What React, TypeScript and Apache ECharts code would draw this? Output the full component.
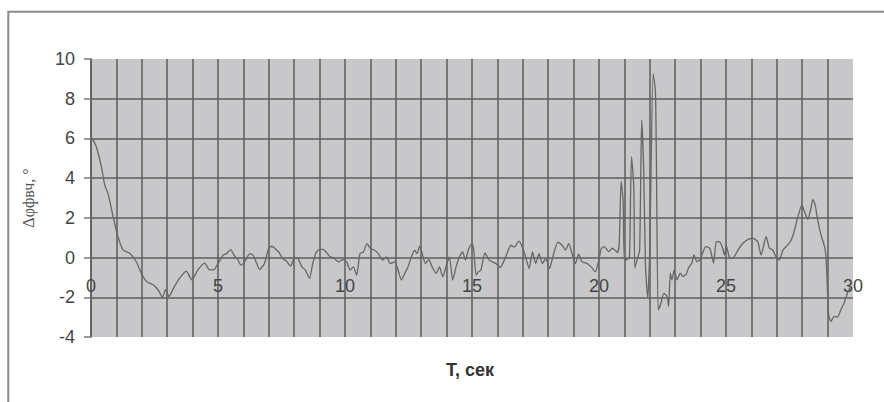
import React, { useEffect, useRef } from "react";
import * as echarts from "echarts";

const times: number[] = [
  0.05, 0.21, 0.41, 0.54, 0.67, 0.87, 1.06, 1.26, 1.52, 1.78, 1.98, 2.18, 2.44, 2.64, 2.81, 2.94, 3.07, 3.25, 3.49, 3.75,
  3.97, 4.21, 4.47, 4.67, 4.83, 5.0, 5.2, 5.33, 5.5, 5.63, 5.79, 5.9, 6.05, 6.25, 6.38, 6.5, 6.64, 6.83, 6.99, 7.12,
  7.25, 7.39, 7.55, 7.69, 7.86, 8.01, 8.15, 8.3, 8.43, 8.6, 8.73, 8.87, 9.04, 9.19, 9.39, 9.59, 9.74, 9.92, 10.07, 10.2,
  10.33, 10.46, 10.59, 10.72, 10.87, 11.0, 11.17, 11.31, 11.48, 11.63, 11.79, 11.96, 12.09, 12.22, 12.35, 12.48, 12.61, 12.74, 12.83, 12.94,
  13.04, 13.17, 13.3, 13.43, 13.59, 13.72, 13.85, 14.01, 14.11, 14.24, 14.37, 14.5, 14.63, 14.74, 14.87, 15.0, 15.07, 15.16, 15.25, 15.35,
  15.51, 15.68, 15.81, 15.94, 16.11, 16.27, 16.4, 16.53, 16.66, 16.85, 16.98, 17.11, 17.25, 17.38, 17.51, 17.64, 17.77, 17.9, 18.05, 18.2,
  18.38, 18.55, 18.68, 18.81, 18.94, 19.07, 19.2, 19.33, 19.53, 19.69, 19.86, 19.99, 20.09, 20.2, 20.39, 20.52, 20.65, 20.74, 20.8, 20.87,
  20.95, 21.0, 21.13, 21.2, 21.28, 21.37, 21.41, 21.5, 21.6, 21.68, 21.76, 21.83, 21.92, 22.0, 22.13, 22.22, 22.26, 22.33, 22.44, 22.55,
  22.68, 22.74, 22.81, 22.87, 22.96, 23.07, 23.2, 23.3, 23.43, 23.52, 23.65, 23.74, 23.85, 23.97, 24.1, 24.2, 24.36, 24.42, 24.51, 24.62,
  24.72, 24.85, 24.94, 25.01, 25.14, 25.27, 25.47, 25.67, 25.87, 26.05, 26.25, 26.38, 26.58, 26.71, 26.84, 26.97, 27.1, 27.24, 27.43, 27.57,
  27.7, 27.83, 27.99, 28.09, 28.22, 28.33, 28.42, 28.51, 28.61, 28.74, 28.88, 28.94, 29.0, 29.04, 29.13, 29.26, 29.39, 29.52, 29.65, 29.78,
  29.91,
];

const phaseDiff: number[] = [
  6.0, 5.58, 4.57, 3.65, 3.23, 2.06, 1.06, 0.39, 0.22, -0.2, -0.79, -1.2, -1.37, -1.62, -2.0, -1.62, -1.96, -1.54, -1.04, -0.68,
  -1.12, -0.62, -0.28, -0.62, -0.62, -0.3, 0.12, 0.2, 0.4, 0.12, -0.13, -0.38, -0.22, 0.2, 0.12, -0.22, -0.6, -0.3, 0.45, 0.57,
  0.45, 0.28, -0.05, -0.17, -0.43, 0.0, -0.05, -0.47, -0.6, -1.05, -0.3, 0.28, 0.43, 0.37, 0.07, -0.05, -0.22, -0.1, -0.22, -0.63,
  -0.47, -0.88, 0.2, 0.28, 0.7, 0.45, 0.37, 0.2, -0.13, 0.03, -0.3, -0.22, -0.63, -1.13, -0.8, -0.47, 0.03, 0.37, 0.2, 0.57,
  0.2, -0.3, -0.1, -0.47, -0.8, -0.47, -0.97, -0.3, 0.03, -1.13, -0.47, 0.03, 0.28, -0.13, 0.45, 0.7, 0.37, -0.88, -0.72, -0.63,
  0.23, -0.13, -0.22, -0.3, -0.5, -0.13, 0.28, 0.62, 0.53, 0.83, 0.53, 0.03, -0.55, 0.28, -0.3, 0.2, -0.3, -0.05, -0.55, 0.12,
  0.78, 0.62, 0.37, 0.7, 0.2, -0.3, 0.17, -0.22, -0.3, -0.47, -0.72, -0.13, 0.45, 0.55, 0.3, 0.47, 0.35, 0.25, 0.8, 3.82,
  2.9, -0.12, -0.08, 0.0, 5.08, 3.57, -0.54, -0.12, 0.38, 6.92, 4.4, -0.45, -2.04, 0.55, 9.26, 8.4, 4.9, -2.63, -2.3, -1.8,
  -1.96, -2.46, -0.79, -1.12, -0.62, -1.12, -0.79, -0.95, -0.85, -0.54, -0.28, 0.13, -0.2, -0.12, 0.3, 0.55, 0.47, 0.22, -0.28, 0.8,
  0.8, 0.55, 0.13, 0.6, 0.0, -0.03, 0.38, 0.72, 0.92, 0.97, 0.8, 0.13, 1.05, 0.47, 0.38, 0.05, -0.12, 0.38, 0.64, 0.89,
  1.39, 2.06, 2.65, 2.31, 1.93, 2.4, 2.93, 2.65, 1.89, 1.14, 0.55, -0.03, -1.79, -2.88, -3.22, -2.96, -3.0, -2.63, -2.29, -1.79,
  -1.46,
];

const xMin = 0;
const xMax = 30;
const yMin = -4;
const yMax = 10;
const yStep = 2;
const xLabelEvery = 5;
const yAxisTitle = "Δφфвч, °";
const xAxisTitle = "T, сек";

export default function App() {
  const ref = useRef<HTMLDivElement>(null);
  useEffect(() => {
    if (!ref.current) return;
    const chart = echarts.init(ref.current, null, { renderer: "svg" });
    const data = times.map((t, i) => [t, phaseDiff[i]]);
    const gridColor = "#5c5c5c";
    chart.setOption({
      animation: false,
      backgroundColor: "#ffffff",
      grid: {
        left: 91,
        top: 59,
        width: 762,
        height: 278,
        show: true,
        backgroundColor: "#c8c8ca",
        borderWidth: 0,
      },
      xAxis: {
        type: "value",
        min: xMin,
        max: xMax,
        interval: 1,
        axisLine: { show: false },
        axisTick: { show: false },
        axisLabel: {
          margin: -60,
          fontSize: 18,
          color: "#444",
          fontFamily: "'Liberation Sans', Arial, sans-serif",
          formatter: (v: number) => (v % xLabelEvery === 0 ? String(v) : ""),
          showMaxLabel: true,
          showMinLabel: true,
        },
        splitLine: { show: true, showMaxLine: false, lineStyle: { color: gridColor, width: 1.5 } },
      },
      yAxis: {
        type: "value",
        min: yMin,
        max: yMax,
        interval: yStep,
        name: yAxisTitle,
        nameLocation: "middle",
        nameRotate: 90,
        nameGap: 55,
        nameTextStyle: {
          fontSize: 16,
          color: "#555",
          fontFamily: "'Liberation Serif', 'DejaVu Serif', serif",
        },
        axisLine: { show: true, lineStyle: { color: gridColor, width: 1.5 } },
        axisTick: { show: true, length: 7, lineStyle: { color: "#777", width: 1.5 } },
        axisLabel: {
          margin: 16,
          fontSize: 18,
          color: "#444",
          fontFamily: "'Liberation Sans', Arial, sans-serif",
        },
        splitLine: {
          show: true,
          showMinLine: false,
          showMaxLine: false,
          lineStyle: { color: gridColor, width: 1.5 },
        },
      },
      series: [
        {
          type: "line",
          data,
          symbol: "none",
          smooth: 0.2,
          lineStyle: { color: "#666", width: 1.3 },
          z: 5,
        },
      ],
      graphic: [
        {
          type: "rect",
          shape: { x: 8.3, y: 11.8, width: 1000, height: 600 },
          style: { fill: "none", stroke: "#8a8a8a", lineWidth: 2 },
          silent: true,
        },
        {
          type: "text",
          x: 470,
          y: 370,
          style: {
            text: xAxisTitle,
            fontSize: 18,
            fontWeight: "bold",
            fill: "#333",
            fontFamily: "'Liberation Sans', Arial, sans-serif",
            textAlign: "center",
            textVerticalAlign: "middle",
          },
        },
      ],
    });
    return () => chart.dispose();
  }, []);
  return (
    <div
      ref={ref}
      style={{ position: "fixed", left: 0, top: 0, width: 884, height: 402 }}
    />
  );
}
